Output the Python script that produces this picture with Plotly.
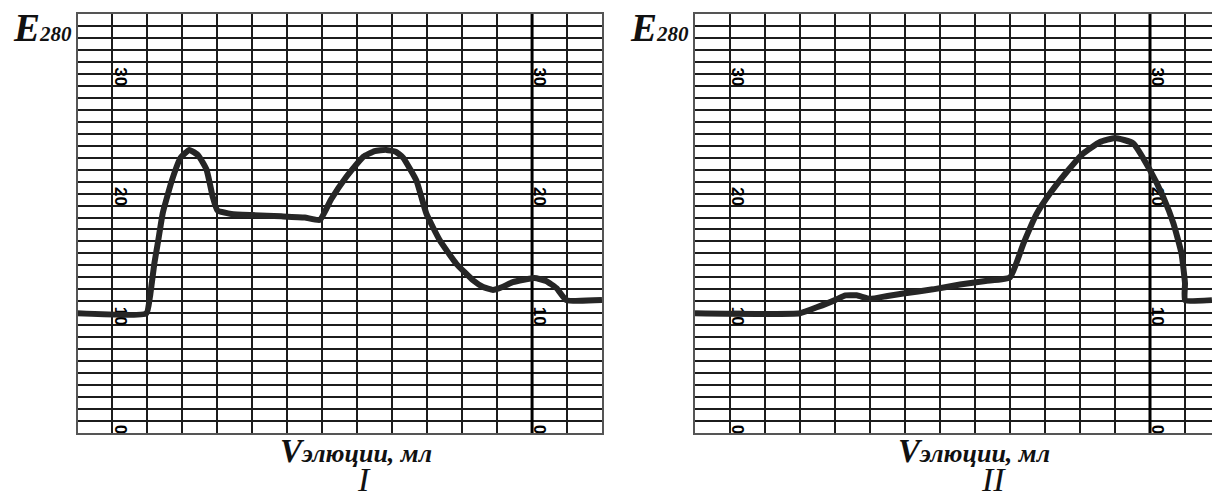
import plotly.graph_objects as go

# ---- data (x in grid columns, y in E280 scale units) ----
volume_I = [0, 1.97, 2.07, 2.2, 2.31, 2.44, 2.7, 2.95, 3.2, 3.45, 3.69, 3.87, 4.0, 4.4,
            5.0, 5.83, 6.5, 6.93, 7.25, 7.69, 8.17, 8.5, 8.83, 9.1, 9.31, 9.69, 9.98,
            10.36, 10.83, 11.31, 11.6, 11.88, 12.15, 12.45, 13.07, 13.4, 13.7, 13.98, 15.0]
e280_I = [10.0, 10.0, 11.35, 14.2, 16.1, 18.4, 21.1, 23.0, 23.65, 23.2, 22.0, 19.7, 18.6, 18.3,
          18.2, 18.1, 18.0, 17.8, 19.5, 21.4, 23.07, 23.55, 23.65, 23.5, 23.0, 21.1, 18.3,
          16.1, 14.15, 12.76, 12.2, 11.95, 12.2, 12.6, 12.95, 12.7, 12.1, 11.1, 11.1]

volume_II = [0, 3.0, 3.48, 4.0, 4.3, 4.62, 5.0, 5.5, 5.95, 6.8, 7.57, 8.3, 9.0, 9.38,
             9.76, 10.14, 10.62, 11.09, 11.57, 12.0, 12.52, 13.0, 13.38, 13.67, 13.9,
             14.0, 14.0, 14.77]
e280_II = [10.0, 10.0, 10.5, 11.1, 11.5, 11.5, 11.2, 11.45, 11.65, 12.0, 12.4, 12.7, 13.0, 15.8,
           18.3, 20.0, 21.8, 23.35, 24.3, 24.65, 24.2, 21.96, 19.7, 17.5, 15.0,
           12.5, 11.1, 11.1]

scale_ticks = ["0", "10", "20", "30"]
scale_values = [0, 10, 20, 30]
scale_columns = [1, 13]
y_label = "E<span style='font-size:21px'>280</span>"
x_label = "V<span style='font-size:26px'>элюции, мл</span>"
panel_names = ["I", "II"]

W, H = 1212, 494
TOP, BOTTOM_PX = 14, 432.6
fig = go.Figure()

def px(x):
    return x / W

def py(y):
    return (BOTTOM_PX - y) / (BOTTOM_PX - TOP)

dom1 = [77.5 / W, 602 / W]
dom2 = [695 / W, 1.0]
xr2 = (W - 695) / 35.0

curve_color = "#262626"
grid_color = "#1c1c1c"

fig.add_trace(go.Scatter(x=volume_I, y=e280_I, mode="lines", xaxis="x", yaxis="y",
                         line=dict(color=curve_color, width=6, shape="spline", smoothing=0.4),
                         hoverinfo="skip", showlegend=False))
fig.add_trace(go.Scatter(x=volume_II, y=e280_II, mode="lines", xaxis="x2", yaxis="y2",
                         line=dict(color=curve_color, width=6, shape="spline", smoothing=0.4),
                         hoverinfo="skip", showlegend=False))

axis_common = dict(showticklabels=False, ticks="", zeroline=False, showgrid=True,
                   gridcolor=grid_color, gridwidth=1.8, dtick=1, tick0=0,
                   linecolor="#555", linewidth=1.5, fixedrange=True)

fig.update_layout(
    width=W, height=H,
    margin=dict(l=0, r=0, t=TOP, b=H - BOTTOM_PX),
    paper_bgcolor="white", plot_bgcolor="white",
    xaxis=dict(domain=dom1, range=[0, 15], showline=True, mirror=True, anchor="y", **axis_common),
    yaxis=dict(domain=[0, 1], range=[0, 35], showline=True, mirror=True, anchor="x", **axis_common),
    xaxis2=dict(domain=dom2, range=[0, xr2], showline=True, mirror=True, anchor="y2", **axis_common),
    yaxis2=dict(domain=[0, 1], range=[0, 35], showline=True, mirror=False, anchor="x2", **axis_common),
    showlegend=False,
)

shapes = []
annotations = []
for xa, ya in [("x", "y"), ("x2", "y2")]:
    shapes.append(dict(type="line", xref=xa, yref=ya, x0=13, x1=13, y0=0, y1=35,
                       line=dict(color="#000", width=3), layer="between"))
    for col in scale_columns:
        for txt, v in zip(scale_ticks, scale_values):
            c = v - 0.25 if v > 0 else 0.3
            shapes.append(dict(type="rect", xref=xa, yref=ya,
                               x0=col + 0.05, x1=col + 0.5, y0=c - 0.9, y1=c + 0.9,
                               line=dict(width=0), fillcolor="rgba(0,0,0,0)", layer="between",
                               label=dict(text="<b>" + txt + "</b>", textangle=90,
                                          textposition="middle center",
                                          font=dict(family="Liberation Sans", size=17, color="#000"))))

serif = "Liberation Serif"
for i, (left_px, name) in enumerate(zip([0, 617.5], panel_names)):
    annotations.append(dict(xref="paper", yref="paper", x=px(74 + left_px), y=py(27),
                            xanchor="right", yanchor="middle", showarrow=False,
                            text="<b><i>" + y_label + "</i></b>",
                            font=dict(family=serif, size=39, color="#111")))
    annotations.append(dict(xref="paper", yref="paper", x=px(278 + left_px), y=py(451),
                            xanchor="left", yanchor="middle", showarrow=False,
                            text="<b><i>" + x_label + "</i></b>",
                            font=dict(family=serif, size=33, color="#111")))
    annotations.append(dict(xref="paper", yref="paper", x=px(364 + left_px * 1.02), y=py(479),
                            xanchor="center", yanchor="middle", showarrow=False,
                            text="<i>" + name + "</i>",
                            font=dict(family=serif, size=34, color="#111")))

fig.update_layout(shapes=shapes, annotations=annotations)
fig.write_html("out.html", config={"displayModeBar": False},
               post_script="document.body.style.margin='0';document.body.style.overflow='hidden';")
